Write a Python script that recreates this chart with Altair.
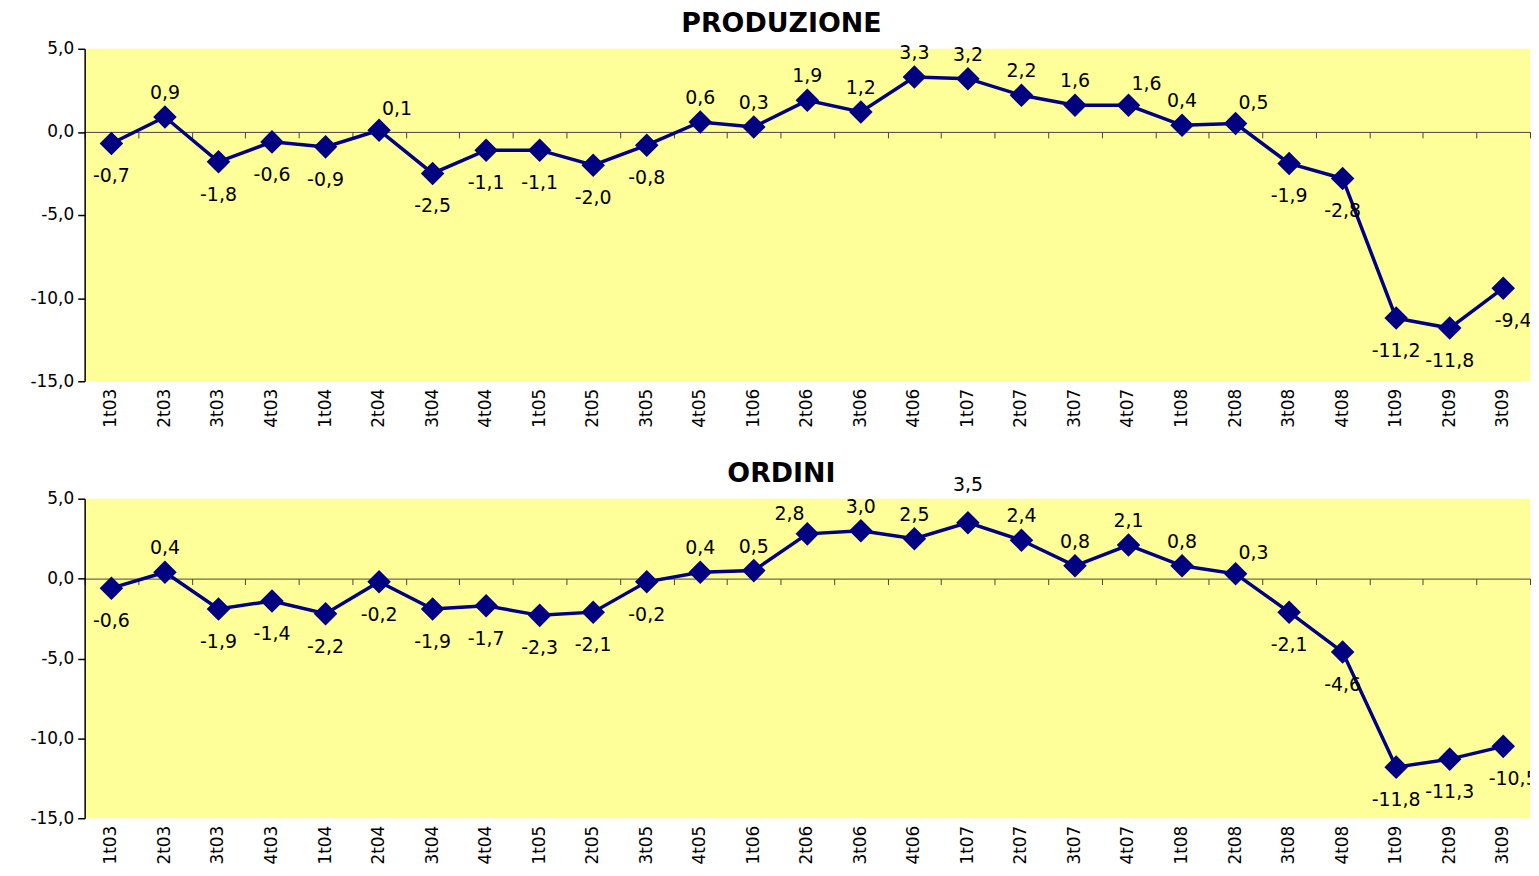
import altair as alt
import pandas as pd

quarters = ["1t03", "2t03", "3t03", "4t03", "1t04", "2t04", "3t04", "4t04",
            "1t05", "2t05", "3t05", "4t05", "1t06", "2t06", "3t06", "4t06",
            "1t07", "2t07", "3t07", "4t07", "1t08", "2t08", "3t08", "4t08",
            "1t09", "2t09", "3t09"]

produzione = [-0.7, 0.9, -1.8, -0.6, -0.9, 0.1, -2.5, -1.1, -1.1, -2.0, -0.8, 0.6,
              0.3, 1.9, 1.2, 3.3, 3.2, 2.2, 1.6, 1.6, 0.4, 0.5, -1.9, -2.8,
              -11.2, -11.8, -9.4]

ordini = [-0.6, 0.4, -1.9, -1.4, -2.2, -0.2, -1.9, -1.7, -2.3, -2.1, -0.2, 0.4,
          0.5, 2.8, 3.0, 2.5, 3.5, 2.4, 0.8, 2.1, 0.8, 0.3, -2.1, -4.6,
          -11.8, -11.3, -10.5]

# label side for each data label (t=top, T=high top, b=bottom, tr/tl/br = shifted)
produzione_sides = ["b", "t", "b", "b", "b", "tr", "b", "b", "b", "b", "b", "t",
                    "t", "t", "t", "t", "t", "t", "t", "tr", "t", "tr", "b", "b",
                    "b", "b", "br"]
ordini_sides = ["b", "t", "b", "b", "b", "b", "b", "b", "b", "b", "b", "t",
                "t", "tl", "t", "t", "T", "t", "t", "t", "t", "tr", "b", "b",
                "b", "b", "br"]

y_ticks = [-15, -10, -5, 0, 5]

W = 1452
FONT = "DejaVu Sans"
NAVY = "#000080"

side_offsets = {"t": (0, -24), "T": (0, -38), "b": (0, 33), "tr": (18, -21),
                "tl": (-18, -20), "br": (10, 33)}


def panel(title, values, sides, H, x_extent, title_offset):
    df = pd.DataFrame({
        "cat": quarters,
        "val": values,
        "side": sides,
        "lab": [f"{v:.1f}".replace(".", ",") for v in values],
    })
    xscale = alt.Scale(type="band", paddingInner=0, paddingOuter=0)
    yenc = alt.Y("val:Q",
                 scale=alt.Scale(domain=[-15, 5], nice=False, zero=False),
                 axis=alt.Axis(values=y_ticks, title=None, grid=False,
                               labelExpr="replace(replace(format(datum.value, '.1f'), '.', ','), '\u2212', '-')",
                               domainColor="black", domainWidth=1.5, tickColor="black",
                               tickWidth=1.5, tickSize=7,
                               labelFontSize=17, labelFont=FONT, labelColor="black",
                               labelPadding=4, minExtent=77, maxExtent=77))
    x_label = alt.X("cat:N", sort=quarters, scale=xscale,
                    axis=alt.Axis(orient="bottom", title=None, labelAngle=-90,
                                  labelAlign="right", labelBaseline="middle",
                                  labelFontSize=17, labelFont=FONT, labelColor="black",
                                  labelPadding=7, domain=False, ticks=False, grid=False,
                                  minExtent=x_extent, maxExtent=x_extent))
    x_zero = alt.X("cat:N", sort=quarters, scale=xscale,
                   axis=alt.Axis(orient="bottom", title=None, labels=False,
                                 offset=-0.75 * H, domain=True, domainColor="#444444",
                                 ticks=True, tickBand="extent", tickSize=6,
                                 tickColor="#444444", grid=False,
                                 minExtent=0, maxExtent=0))
    x_none = alt.X("cat:N", sort=quarters, scale=xscale, axis=None)

    base = alt.Chart(df)
    zero = base.mark_point(opacity=0).encode(x=x_zero, y=yenc)
    line = base.mark_line(color=NAVY, strokeWidth=3.5).encode(x=x_label, y=yenc)
    pts = base.mark_point(shape="diamond", filled=True, size=560, color=NAVY,
                          opacity=1).encode(x=x_none, y=yenc)
    layers = [zero, line, pts]
    for s, (dx, dy) in side_offsets.items():
        layers.append(
            base.mark_text(dx=dx, dy=dy, fontSize=19, font=FONT, color="black",
                           baseline="middle", align="center", clip=(s == "br"))
            .encode(x=x_none, y=yenc, text="lab:N")
            .transform_filter(alt.datum.side == s)
        )
    return alt.layer(*layers).resolve_axis(x="independent").properties(
        width=W, height=H,
        title=alt.TitleParams(title, fontSize=27, font=FONT, fontWeight="bold",
                              anchor="middle", frame="group", dx=-26,
                              offset=title_offset, color="black"),
    )


top = panel("PRODUZIONE", produzione, produzione_sides, 334, 58, 2)
bottom = panel("ORDINI", ordini, ordini_sides, 321, 48, -12)

chart = alt.vconcat(top, bottom, spacing=21).properties(
    padding={"left": 0, "top": 0, "right": 0, "bottom": 0},
    background="white",
).configure_view(fill="#FFFF99", stroke=None)

chart.save("out.html", embed_options={"renderer": "svg", "actions": False})
